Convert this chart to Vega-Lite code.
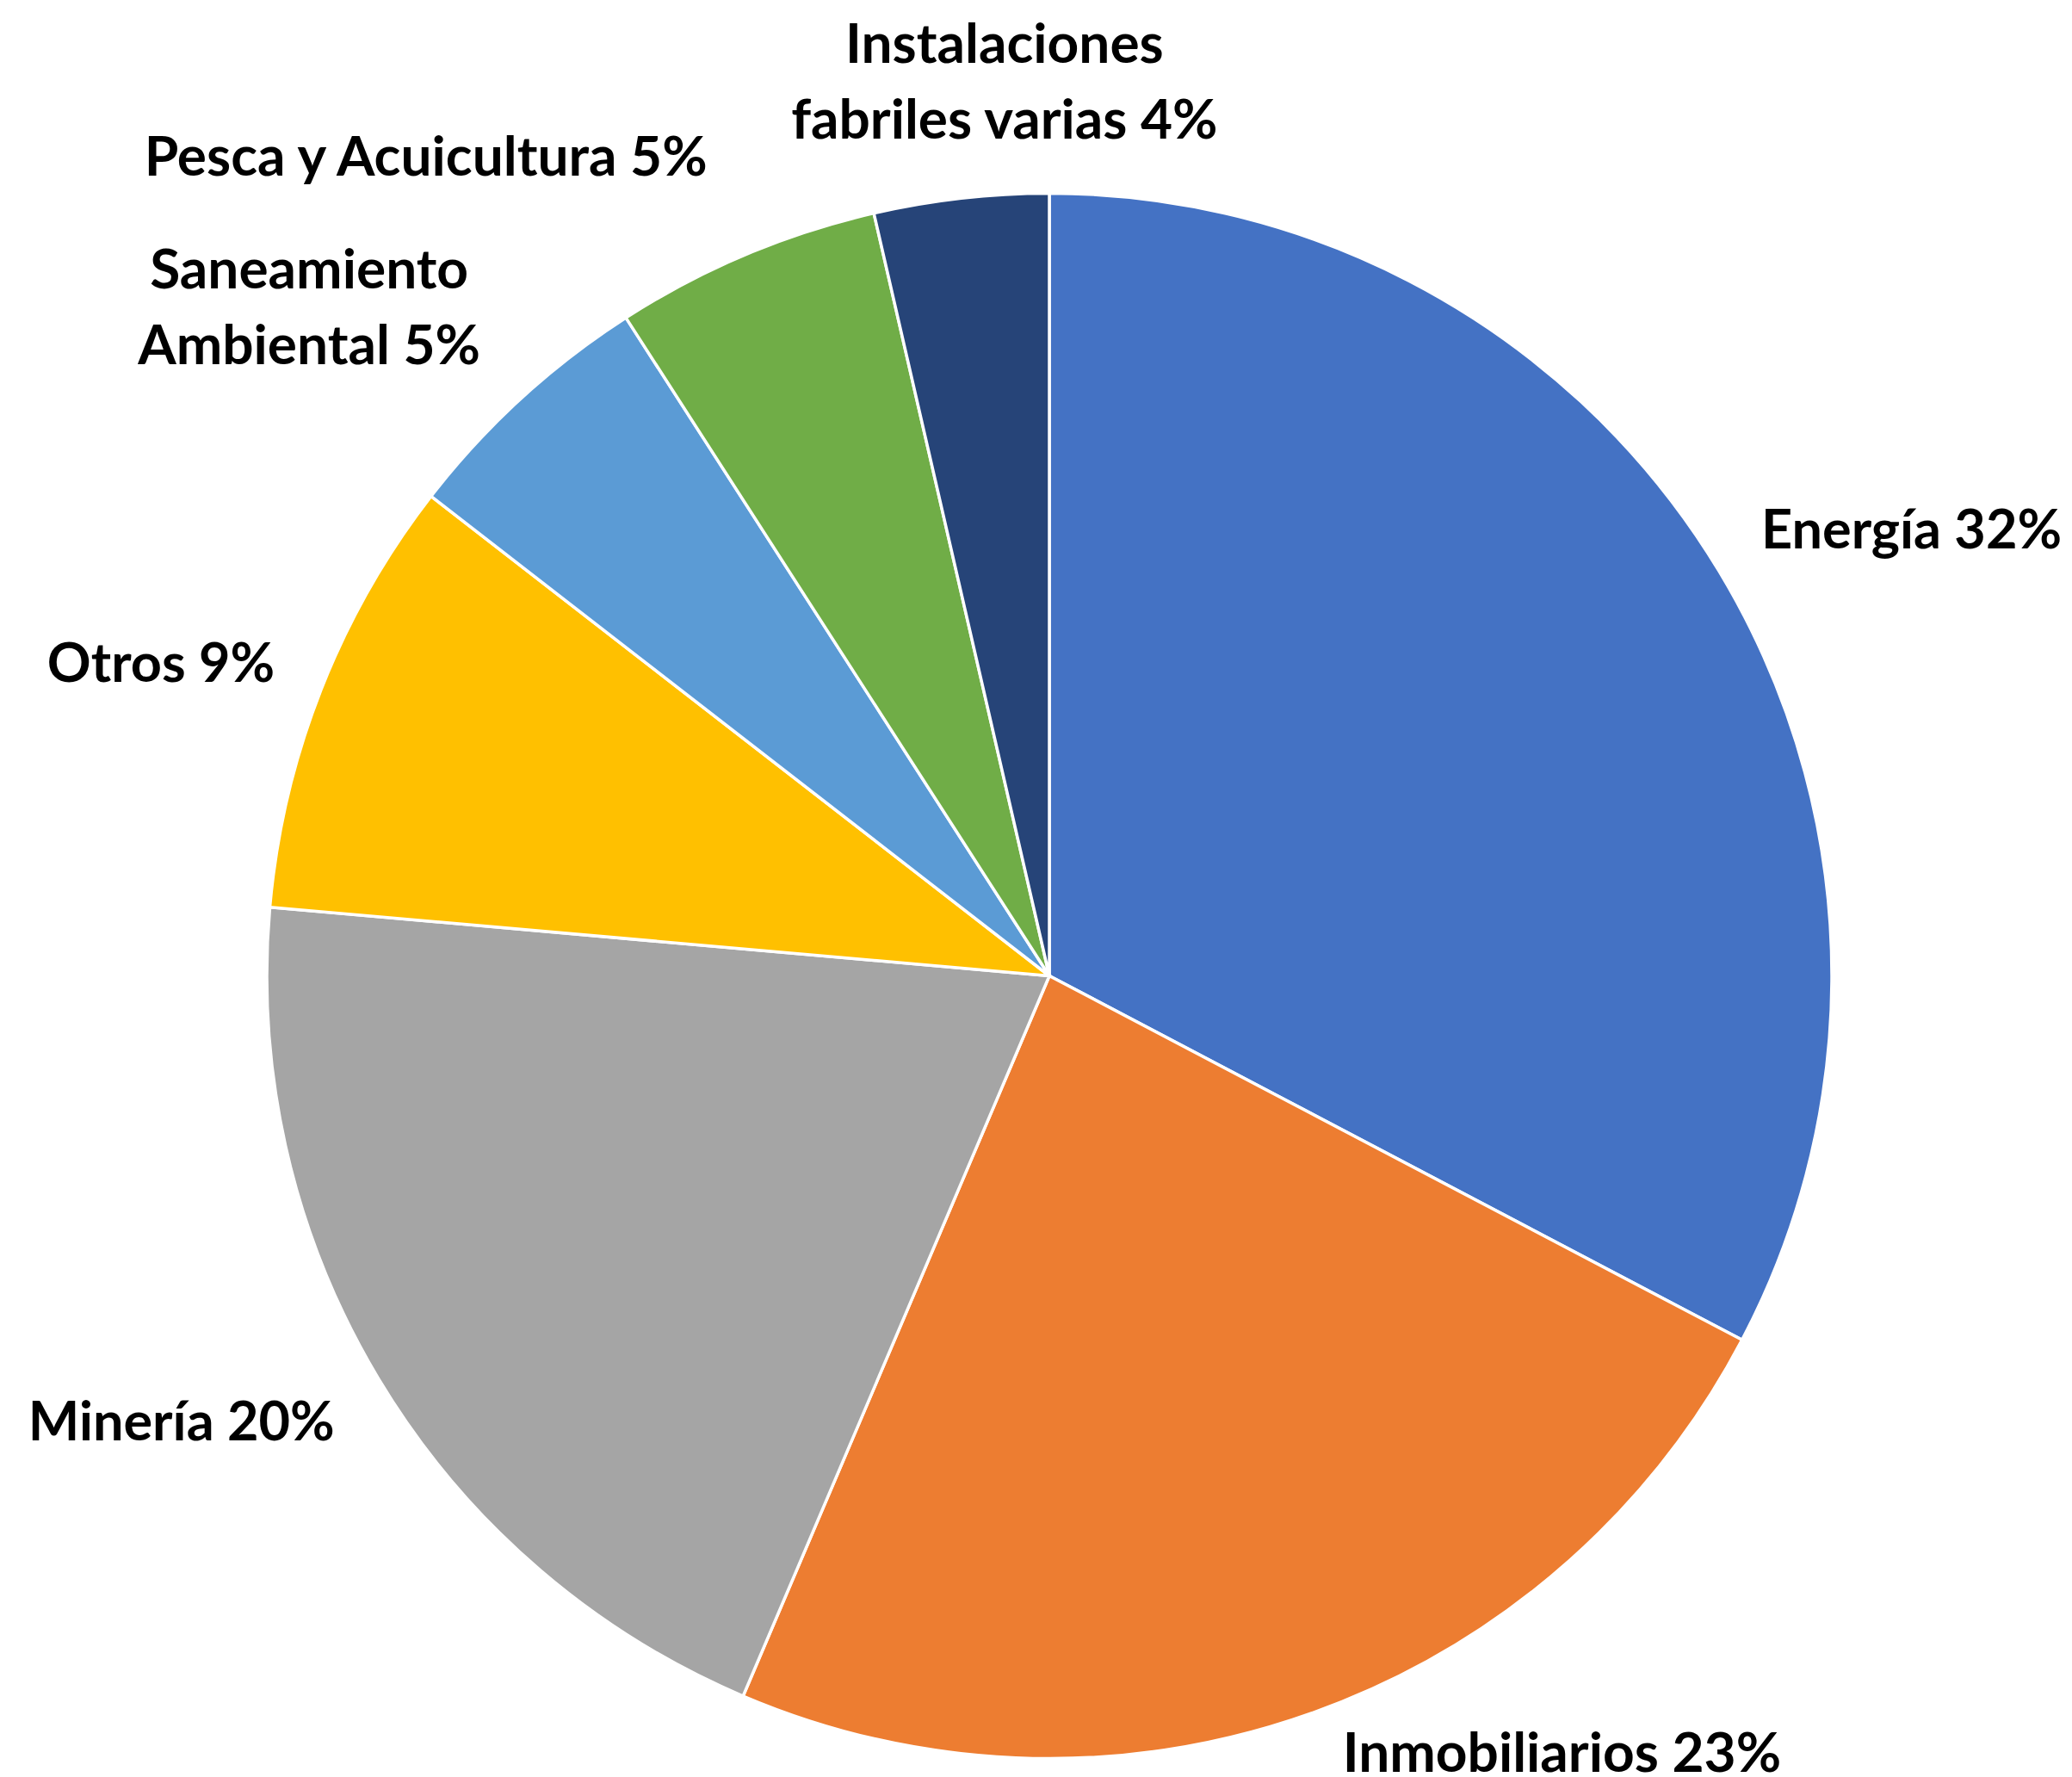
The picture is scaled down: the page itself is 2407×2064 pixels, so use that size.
{
  "$schema": "https://vega.github.io/schema/vega-lite/v6.json",
  "width": 2376,
  "height": 1861,
  "autosize": {"type": "none"},
  "padding": {"left": 31, "top": 203, "right": 0, "bottom": 0},
  "background": "white",
  "view": {"stroke": null},
  "data": {
    "values": [
      {"idx": 1, "sector": "Energía", "value": 32.7, "label": "Energía 32%"},
      {"idx": 2, "sector": "Inmobiliarios", "value": 23.7, "label": "Inmobiliarios 23%"},
      {"idx": 3, "sector": "Minería", "value": 20.0, "label": "Minería 20%"},
      {"idx": 4, "sector": "Otros", "value": 9.1, "label": "Otros 9%"},
      {"idx": 5, "sector": "Saneamiento Ambiental", "value": 5.4, "label": "Saneamiento\nAmbiental 5%"},
      {"idx": 6, "sector": "Pesca y Acuicultura", "value": 5.5, "label": "Pesca y Acuicultura 5%"},
      {"idx": 7, "sector": "Instalaciones fabriles varias", "value": 3.6, "label": "Instalaciones\nfabriles varias 4%"}
    ]
  },
  "encoding": {
    "theta": {"field": "value", "type": "quantitative", "stack": true},
    "order": {"field": "idx", "type": "quantitative", "sort": "ascending"},
    "detail": {"field": "sector", "type": "nominal"}
  },
  "layer": [
    {
      "mark": {"type": "arc", "outerRadius": 909, "stroke": "white", "strokeWidth": 3.5},
      "encoding": {
        "color": {
          "field": "sector",
          "type": "nominal",
          "scale": {
            "domain": ["Energía", "Inmobiliarios", "Minería", "Otros", "Saneamiento Ambiental", "Pesca y Acuicultura", "Instalaciones fabriles varias"],
            "range": ["#4472C4", "#ED7D31", "#A5A5A5", "#FFC000", "#5B9BD5", "#70AD47", "#264478"]
          },
          "legend": null
        }
      }
    },
    {
      "mark": {"type": "text", "radius": 1100, "dx": 60, "dy": 53, "font": "Lato", "fontWeight": "bold", "fontSize": 63, "lineBreak": "\n", "lineHeight": 88, "align": "center", "baseline": "middle", "color": "black"},
      "encoding": {"text": {"condition": {"test": "datum.sector === 'Energía'", "field": "label"}, "value": ""}}
    },
    {
      "mark": {"type": "text", "radius": 1100, "dx": 226, "dy": -131, "font": "Lato", "fontWeight": "bold", "fontSize": 64, "lineBreak": "\n", "lineHeight": 88, "align": "center", "baseline": "middle", "color": "black"},
      "encoding": {"text": {"condition": {"test": "datum.sector === 'Inmobiliarios'", "field": "label"}, "value": ""}}
    },
    {
      "mark": {"type": "text", "radius": 1100, "dx": -65, "dy": -45, "font": "Lato", "fontWeight": "bold", "fontSize": 63, "lineBreak": "\n", "lineHeight": 88, "align": "center", "baseline": "middle", "color": "black"},
      "encoding": {"text": {"condition": {"test": "datum.sector === 'Minería'", "field": "label"}, "value": ""}}
    },
    {
      "mark": {"type": "text", "radius": 1100, "dx": -8, "dy": 41, "font": "Lato", "fontWeight": "bold", "fontSize": 63, "lineBreak": "\n", "lineHeight": 88, "align": "center", "baseline": "middle", "color": "black"},
      "encoding": {"text": {"condition": {"test": "datum.sector === 'Otros'", "field": "label"}, "value": ""}}
    },
    {
      "mark": {"type": "text", "radius": 1100, "dx": -117, "dy": -6, "font": "Lato", "fontWeight": "bold", "fontSize": 64, "lineBreak": "\n", "lineHeight": 88, "align": "center", "baseline": "middle", "color": "black"},
      "encoding": {"text": {"condition": {"test": "datum.sector === 'Saneamiento Ambiental'", "field": "label"}, "value": ""}}
    },
    {
      "mark": {"type": "text", "radius": 1100, "dx": -297, "dy": 65, "font": "Lato", "fontWeight": "bold", "fontSize": 64, "lineBreak": "\n", "lineHeight": 88, "align": "center", "baseline": "middle", "color": "black"},
      "encoding": {"text": {"condition": {"test": "datum.sector === 'Pesca y Acuicultura'", "field": "label"}, "value": ""}}
    },
    {
      "mark": {"type": "text", "radius": 1100, "dx": 72, "dy": 13, "font": "Lato", "fontWeight": "bold", "fontSize": 64, "lineBreak": "\n", "lineHeight": 88, "align": "center", "baseline": "middle", "color": "black"},
      "encoding": {"text": {"condition": {"test": "datum.sector === 'Instalaciones fabriles varias'", "field": "label"}, "value": ""}}
    }
  ]
}
